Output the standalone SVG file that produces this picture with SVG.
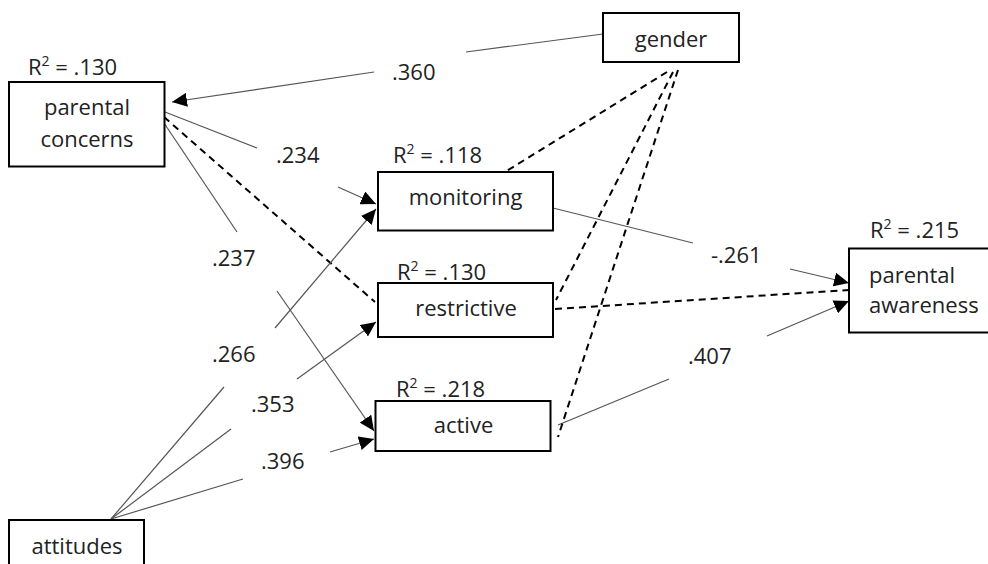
<svg xmlns="http://www.w3.org/2000/svg" width="988" height="564" viewBox="0 0 988 564">
<defs>
<style>
.box{fill:#fff;stroke:#000;stroke-width:2}
.t{font-family:"Open Sans","Noto Sans","DejaVu Sans",sans-serif;font-size:22px;fill:#222}
.c{text-anchor:middle}
.s{fill:none;stroke:#555;stroke-width:1.2}
.d{fill:none;stroke:#000;stroke-width:2;stroke-dasharray:7,5}
</style>
<marker id="arr" markerUnits="userSpaceOnUse" markerWidth="16" markerHeight="14" refX="15" refY="7" orient="auto">
<path d="M0,0 L15,7 L0,14 Z" fill="#000"/>
</marker>
</defs>
<rect width="988" height="564" fill="#fff"/>
<g id="connectors">
<path class="s" d="M603,34 L466,52"/>
<path class="s" d="M374,72 L172,102" marker-end="url(#arr)"/>
<path class="s" d="M165,112 L257,148"/>
<path class="s" d="M338,187 L376,204" marker-end="url(#arr)"/>
<path class="d" d="M164,117 L375,302"/>
<path class="s" d="M164,123 L237,232"/>
<path class="s" d="M277,291 L374,431" marker-end="url(#arr)"/>
<path class="s" d="M111,519 L224,387"/>
<path class="s" d="M275,328 L376,209" marker-end="url(#arr)"/>
<path class="s" d="M111,519 L231,429"/>
<path class="s" d="M297,379 L376,322" marker-end="url(#arr)"/>
<path class="s" d="M111,519 L243,479"/>
<path class="s" d="M330,452 L374,439" marker-end="url(#arr)"/>
<path class="s" d="M553,208 L693,243"/>
<path class="s" d="M790,269 L849,283" marker-end="url(#arr)"/>
<path class="d" d="M555,309 L849,290"/>
<path class="s" d="M558,425 L669,379"/>
<path class="s" d="M767,336 L849,301" marker-end="url(#arr)"/>
<path class="d" d="M667,72 L505,172"/>
<path class="d" d="M673,72 L556,300"/>
<path class="d" d="M678,70 L558,437"/>
</g>
<g id="labels" class="t">
<text x="392" y="80">.360</text>
<text x="276" y="163">.234</text>
<text x="212" y="266">.237</text>
<text x="212" y="362">.266</text>
<text x="251" y="412">.353</text>
<text x="261" y="469">.396</text>
<text x="711" y="263">-.261</text>
<text x="688" y="364">.407</text>
</g>
<g id="parental_concerns">
<rect class="box" x="9" y="82" width="155.5" height="84.5"/>
<text class="t" x="28" y="75">R<tspan font-size="14" dy="-9">2</tspan><tspan dy="9"> = .130</tspan></text>
<text class="t c" x="87" y="115">parental</text>
<text class="t c" x="87" y="147">concerns</text>
</g>
<g id="gender">
<rect class="box" x="603" y="13" width="136" height="49"/>
<text class="t c" x="671" y="47">gender</text>
</g>
<g id="monitoring">
<rect class="box" x="378" y="172" width="175" height="58.5"/>
<text class="t" x="393" y="163">R<tspan font-size="14" dy="-9">2</tspan><tspan dy="9"> = .118</tspan></text>
<text class="t c" x="465.5" y="205">monitoring</text>
</g>
<g id="restrictive">
<rect class="box" x="378" y="283" width="175" height="54"/>
<text class="t" x="397" y="280">R<tspan font-size="14" dy="-9">2</tspan><tspan dy="9"> = .130</tspan></text>
<text class="t c" x="466" y="316">restrictive</text>
</g>
<g id="active">
<rect class="box" x="375.5" y="401" width="175" height="50"/>
<text class="t" x="396" y="397">R<tspan font-size="14" dy="-9">2</tspan><tspan dy="9"> = .218</tspan></text>
<text class="t c" x="463.5" y="433">active</text>
</g>
<g id="parental_awareness">
<rect class="box" x="849" y="248.5" width="150" height="84"/>
<text class="t" x="870" y="238">R<tspan font-size="14" dy="-9">2</tspan><tspan dy="9"> = .215</tspan></text>
<text class="t" x="869" y="283">parental</text>
<text class="t" x="869" y="313">awareness</text>
</g>
<g id="attitudes">
<rect class="box" x="9" y="520" width="135" height="60"/>
<text class="t c" x="77" y="554">attitudes</text>
</g>
</svg>
